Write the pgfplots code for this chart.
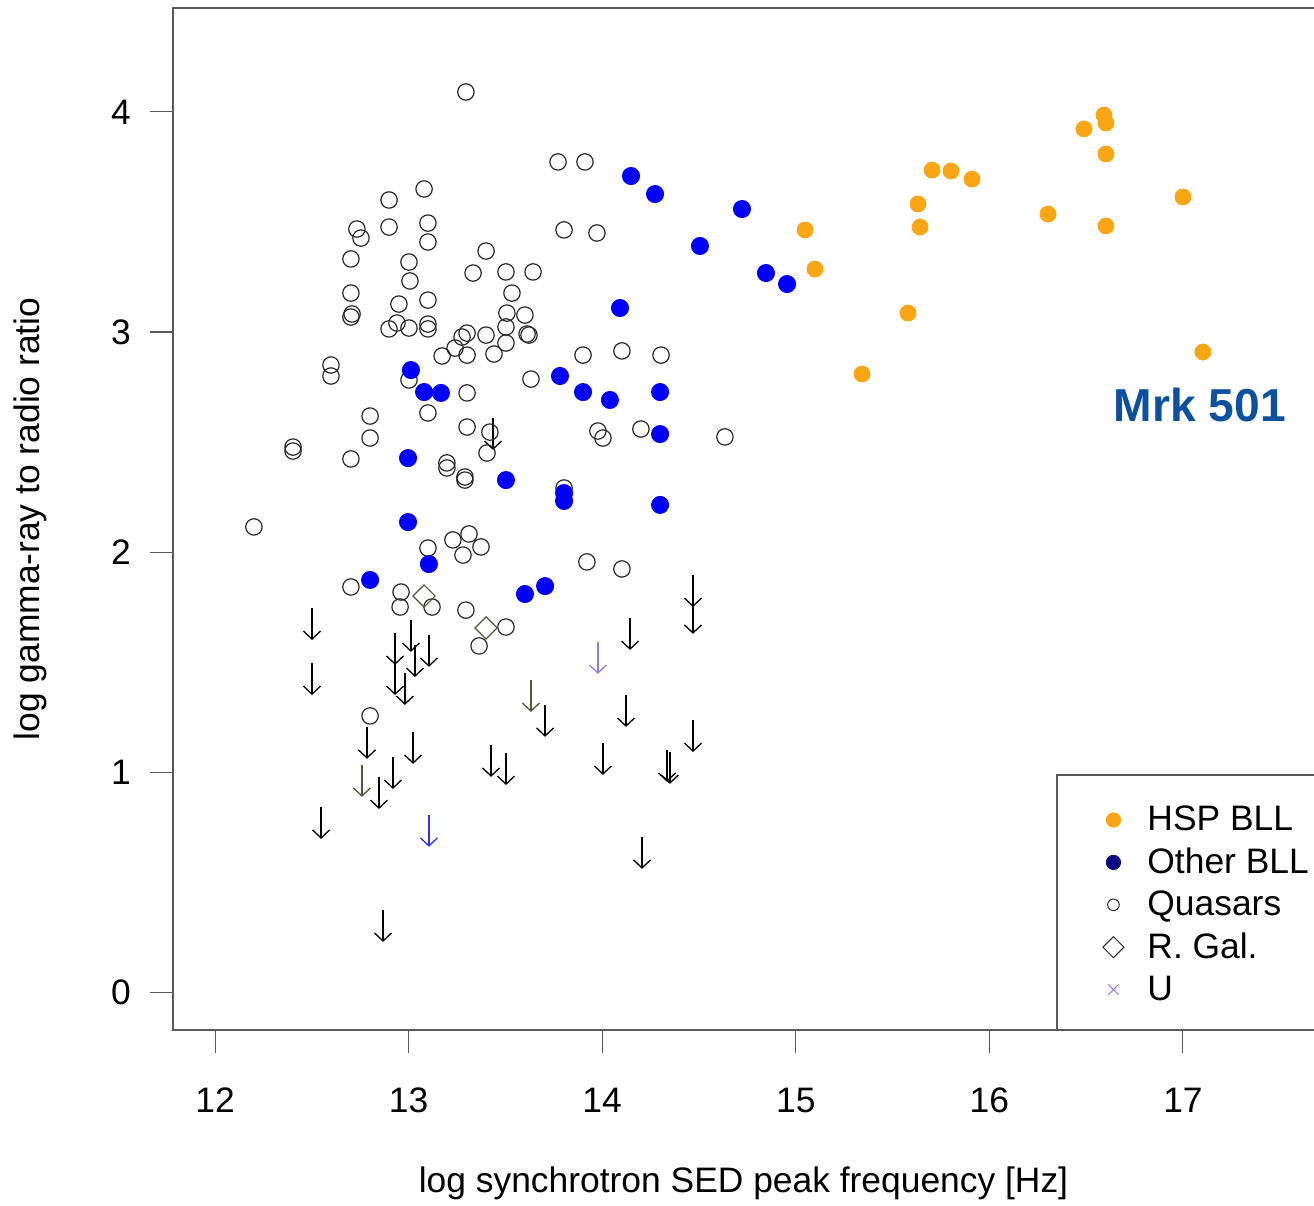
\documentclass[border=0pt]{standalone}
\usepackage{fontspec}
\setmainfont{Liberation Sans}
\usepackage{pgfplots}
\pgfplotsset{compat=1.18}
\usetikzlibrary{arrows.meta,calc}

\definecolor{hsporange}{RGB}{250,165,20}
\definecolor{bllblue}{RGB}{0,0,250}
\definecolor{bllnavy}{RGB}{10,10,130}
\definecolor{qsogray}{RGB}{40,40,40}
\definecolor{rgalolive}{RGB}{85,85,55}
\definecolor{ulilac}{RGB}{140,125,225}
\definecolor{ulimblue}{RGB}{50,50,235}
\definecolor{mrkblue}{RGB}{12,80,158}
\definecolor{framegray}{RGB}{90,90,90}

\newcommand{\basefont}{\fontsize{17.7}{21}\selectfont}

\begin{document}
\begin{tikzpicture}
\begin{axis}[
  scale only axis, width=570.5pt, height=511pt,
  xmin=11.783, xmax=17.677, ymin=-0.1727, ymax=4.4727,
  axis line style={draw=none},
  tick pos=left, tick align=outside,
  major tick length=11.5pt,
  tick style={framegray, line width=0.5pt},
  xtick={12,...,17}, ytick={0,...,4},
  /pgf/number format/assume math mode=true,
  tick label style={font=\basefont},
  xticklabel style={yshift=-14pt},
  yticklabel style={xshift=-6pt},
  xlabel={log synchrotron SED peak frequency [Hz]},
  ylabel={log gamma-ray to radio ratio},
  label style={font=\basefont},
  xlabel style={at={(axis description cs:0.5,-0.1497)}, anchor=center},
  ylabel style={at={(axis description cs:-0.1253,0.5)}, anchor=center},
  clip=false,
  legend style={at={(rel axis cs:0.7748,0)}, anchor=south west, draw=none, fill=none,
    inner xsep=0pt, inner ysep=9.4pt, font=\basefont, nodes={inner sep=0pt},
    row sep=0pt, column sep=0pt},
  legend cell align=left,
  legend image code/.code={\path[draw=none, fill=none] (0pt,-10.6pt) rectangle (45pt,10.6pt);
    \draw[#1] plot coordinates {(28pt,0pt)};},
]
% plot frame (open on the right) and legend frame
\coordinate (bl) at (rel axis cs:0,0);
\coordinate (tr) at (rel axis cs:1,1);
\draw[framegray, line width=1pt] (rel axis cs:1.05,1) -- (rel axis cs:0,1) -- (rel axis cs:0,0) -- (rel axis cs:1.05,0);
\draw[framegray, line width=0.8pt] (rel axis cs:1.05,0.2495) -- (rel axis cs:0.7748,0.2495) -- (rel axis cs:0.7748,0);

% Quasars
\addplot[forget plot, only marks, mark=o, mark size=4.1pt, qsogray, line width=0.6pt] coordinates {
(13.296,4.091) (13.080,3.650) (12.899,3.600) (12.733,3.468) (12.754,3.427)
(12.899,3.477) (13.100,3.495) (13.100,3.409) (12.702,3.332) (13.002,3.318)
(13.007,3.232) (13.400,3.368) (13.333,3.268) (13.503,3.273) (13.643,3.273)
(13.534,3.177) (12.702,3.177) (13.100,3.145) (12.950,3.127) (12.708,3.082)
(12.702,3.068) (12.899,3.014) (12.940,3.041) (13.002,3.018) (13.100,3.036)
(13.100,3.014) (13.276,2.977) (13.302,2.995) (13.240,2.927) (13.400,2.986)
(13.508,3.086) (13.601,3.077) (13.503,3.023) (13.612,2.991) (13.622,2.986)
(13.503,2.950) (13.173,2.891) (13.302,2.895) (13.441,2.900) (13.772,3.773)
(13.911,3.773) (13.803,3.464) (13.973,3.450) (13.901,2.895) (14.102,2.914)
(14.304,2.895) (13.632,2.786) (13.002,2.782) (13.302,2.723) (12.599,2.850)
(12.599,2.800) (12.801,2.618) (13.100,2.632) (12.801,2.518) (13.302,2.568)
(13.420,2.545) (13.405,2.450) (12.403,2.477) (12.403,2.459) (12.702,2.423)
(13.198,2.405) (13.198,2.382) (13.291,2.341) (13.291,2.327) (13.978,2.550)
(14.004,2.518) (14.200,2.559) (14.634,2.523) (13.803,2.291) (12.201,2.114)
(13.100,2.018) (13.229,2.055) (13.312,2.082) (13.374,2.023) (13.281,1.986)
(12.702,1.841) (12.961,1.818) (12.956,1.750) (13.121,1.750) (13.296,1.736)
(13.503,1.659) (13.364,1.573) (12.801,1.255) (13.921,1.955) (14.102,1.923)
};
% Radio galaxies
\addplot[forget plot, only marks, mark=square, mark options={rotate=45}, mark size=3.9pt, rgalolive, line width=0.6pt] coordinates {
(13.080,1.800) (13.400,1.655)
};
% Upper limits
\addplot[forget plot, black, line width=0.65pt, -{Straight Barb[length=4pt,width=8.5pt]}, quiver={u=0, v=-0.145}] coordinates {
(12.501,1.745) (12.501,1.495) (12.930,1.632) (12.930,1.495) (13.012,1.691)
(13.033,1.577) (13.105,1.623) (12.981,1.450) (12.785,1.205) (13.023,1.182)
(12.919,1.068) (12.847,0.977) (12.548,0.841) (13.426,1.123) (13.503,1.086)
(14.469,1.895) (14.469,1.773) (14.144,1.700) (13.705,1.305) (14.123,1.350)
(14.469,1.236) (14.004,1.132) (14.335,1.100) (14.350,1.091) (14.206,0.705)
(12.868,0.373) (13.436,2.609)
};
\addplot[forget plot, rgalolive, line width=0.65pt, -{Straight Barb[length=4pt,width=8.5pt]}, quiver={u=0, v=-0.145}] coordinates {
(12.759,1.032) (13.632,1.418)
};
\addplot[forget plot, ulimblue, line width=0.65pt, -{Straight Barb[length=4pt,width=8.5pt]}, quiver={u=0, v=-0.145}] coordinates {
(13.105,0.805)
};
\addplot[forget plot, ulilac, line width=0.65pt, -{Straight Barb[length=4pt,width=8.5pt]}, quiver={u=0, v=-0.145}] coordinates {
(13.978,1.591)
};
% Other BL Lacs
\addplot[forget plot, only marks, mark=*, mark size=4.3pt, bllblue] coordinates {
(14.149,3.709) (14.273,3.627) (14.722,3.559) (14.505,3.391) (14.846,3.268)
(14.955,3.218) (14.092,3.109) (13.012,2.827) (13.080,2.727) (13.167,2.723)
(13.782,2.800) (13.901,2.727) (14.040,2.691) (14.299,2.727) (14.299,2.536)
(12.997,2.427) (13.503,2.327) (13.803,2.268) (13.803,2.232) (14.299,2.214)
(12.997,2.136) (13.105,1.945) (12.801,1.873) (13.601,1.809) (13.705,1.845)
};
% HSP BL Lacs
\addplot[forget plot, only marks, mark=*, mark size=4pt, hsporange] coordinates {
(15.048,3.464) (15.099,3.286) (15.342,2.809) (15.580,3.086) (15.631,3.582)
(15.642,3.477) (15.704,3.736) (15.802,3.732) (15.910,3.695) (16.303,3.536)
(16.489,3.923) (16.592,3.986) (16.602,3.950) (16.602,3.809) (16.602,3.482)
(17.000,3.614) (17.103,2.909)
};

\node[font=\fontsize{23.1}{26}\selectfont\bfseries, text=mrkblue] at (axis cs:17.088,2.668) {Mrk 501};

\addlegendimage{only marks, mark=*, mark size=3.6pt, hsporange, line width=0.4pt}
\addlegendentry{HSP BLL}
\addlegendimage{only marks, mark=*, mark size=3.6pt, bllnavy, line width=0.4pt}
\addlegendentry{Other BLL}
\addlegendimage{only marks, mark=o, mark size=2.9pt, qsogray, line width=0.5pt}
\addlegendentry{Quasars}
\addlegendimage{only marks, mark=square, mark options={rotate=45}, mark size=3.7pt, qsogray, line width=0.5pt}
\addlegendentry{R. Gal.}
\addlegendimage{only marks, mark=x, mark size=3.6pt, ulilac, line width=0.5pt}
\addlegendentry{U}
\end{axis}
\pgfresetboundingbox
\path[use as bounding box] ($(bl)+(-86.5pt,-87.5pt)$) rectangle ($(tr)+(0pt,4pt)$);
\end{tikzpicture}
\end{document}
